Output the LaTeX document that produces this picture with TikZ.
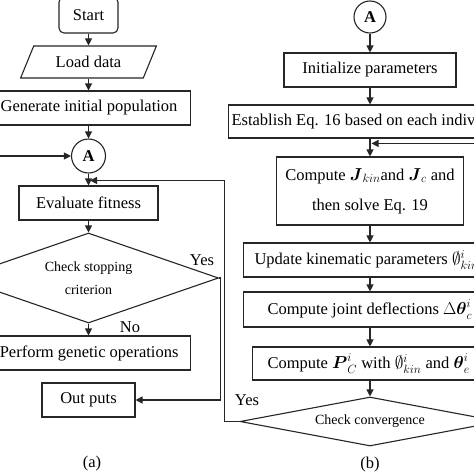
\documentclass[tikz,border=0pt]{standalone}
\usepackage{amsmath,amssymb}
\usepackage{fontspec}
\setmainfont{Liberation Serif}
\usetikzlibrary{shapes.geometric,arrows.meta,calc}
\begin{document}
\begin{tikzpicture}[x=1pt,y=-1pt,
 every node/.style={font=\fontsize{16.5}{20}\selectfont},
 line/.style={line width=1.1pt, draw=black!85},
 arr/.style={line, -{Triangle[length=7pt,width=7pt]}},
 box/.style={draw=black!85, line width=1.1pt, rectangle, minimum height=34pt, inner ysep=0pt},
 dia/.style={draw=black!85, line width=1.1pt, diamond, inner sep=0pt, minimum width=260pt, align=center, font=\fontsize{14}{23}\selectfont},
 conn/.style={draw=black!85, line width=1.1pt, circle, minimum size=34pt, inner sep=0pt, font=\bfseries\fontsize{16.5}{20}\selectfont},
 lbl/.style={font=\fontsize{16.5}{20}\selectfont}
]
\clip (0,0) rectangle (474,474);
\fill[white] (0,0) rectangle (474,474);
% ---------- (a) ----------
\node[box, rounded corners=5pt, minimum width=59pt, minimum height=36pt] (start) at (88.5,15) {Start};
\node[draw=black!85, line width=1.1pt, trapezium, trapezium left angle=56, trapezium right angle=124, trapezium stretches=true, minimum width=136pt, minimum height=32pt, inner sep=0pt] (load) at (88.5,62) {Load data};
\node[box, anchor=east, inner xsep=13pt] (gen) at (191,108) {Generate initial population};
\node[conn] (a1) at (88.5,156) {A};
\node[box, minimum width=139pt] (eval) at (88.5,203) {Evaluate fitness};
\node[dia, minimum height=90pt, shape aspect=2.9] (stop) at (88.5,278) {Check stopping\\criterion};
\node[box, anchor=east, inner xsep=12pt] (perf) at (191,353) {Perform genetic operations};
\node[box, minimum width=93pt] (out) at (88.5,400) {Out puts};
% ---------- (b) ----------
\node[conn, minimum size=32pt] (a2) at (370,17) {A};
\node[box, minimum width=172pt] (init) at (370,70) {Initialize parameters};
\node[box, anchor=west, inner xsep=3pt, minimum height=33pt] (est) at (228,121.5) {Establish Eq. 16 based on each individual};
\node[box, minimum width=187pt, minimum height=68pt, align=center, font=\fontsize{16.5}{30}\selectfont] (cj) at (370,191) {Compute $\boldsymbol{J}_{kin}$and $\boldsymbol{J}_c$ and\\then solve Eq. 19};
\node[box, anchor=west, inner xsep=11pt] (upd) at (243,260) {Update kinematic parameters $\emptyset^i_{kin}$};
\node[box, anchor=west, inner xsep=24pt, minimum height=35pt] (joint) at (243,309.5) {Compute joint deflections $\Delta\boldsymbol{\theta}^i_c$};
\node[box, anchor=west, inner xsep=15pt, minimum height=33pt] (pc) at (252,363.5) {Compute $\boldsymbol{P}^i_C$ with $\emptyset^i_{kin}$ and $\boldsymbol{\theta}^i_e$};
\node[dia, minimum height=49pt, shape aspect=5.3] (conv) at (370,421.5) {Check convergence};
% ---------- connectors (a) ----------
\draw[arr] (start.south) -- (start.south |- load.north);
\draw[arr] (load.south) -- (load.south |- gen.north);
\draw[arr] (a1 |- gen.south) -- (a1.north);
\coordinate (inA) at (-10,156);
\draw[arr] (inA) -- (a1.west);
\draw[arr] (a1.south) -- (eval.north);
\coordinate (j1) at ($(eval.north)+(1.5,-5)$);
\draw[arr] (conv.west) -- ++(-15,0) |- (j1);
\draw[arr] (eval.south) -- (stop.north);
\draw[arr] (stop.east) -- ++(1,0) |- (out.east);
\draw[arr] (stop.south) -- (stop.south |- perf.north);
\node[lbl] (yes1) at (202,260) {Yes};
\node[lbl] (no1) at (130,327) {No};
% ---------- connectors (b) ----------
\coordinate (topin) at (370,-10);
\draw[line] (topin) -- (a2.north);
\draw[arr] (a2.south) -- (init.north);
\draw[arr] (init.south) -- (init.south |- est.north);
\draw[arr] (cj.north |- est.south) -- (cj.north);
\coordinate (j2) at ($(cj.north)+(1.5,-13)$);
\coordinate (rin) at ($(j2)+(130,0)$);
\draw[arr] (rin) -- (j2);
\draw[arr] (cj.south) -- (cj.south |- upd.north);
\draw[arr] (a2 |- upd.south) -- (a2 |- joint.north);
\draw[arr] (a2 |- joint.south) -- (a2 |- pc.north);
\draw[arr] (a2 |- pc.south) -- (conv.north);
\node[lbl] (yes2) at (247,400) {Yes};
\node[lbl] (capa) at (92,464) {(a)};
\node[lbl] (capb) at (370,465) {(b)};
\end{tikzpicture}
\end{document}
